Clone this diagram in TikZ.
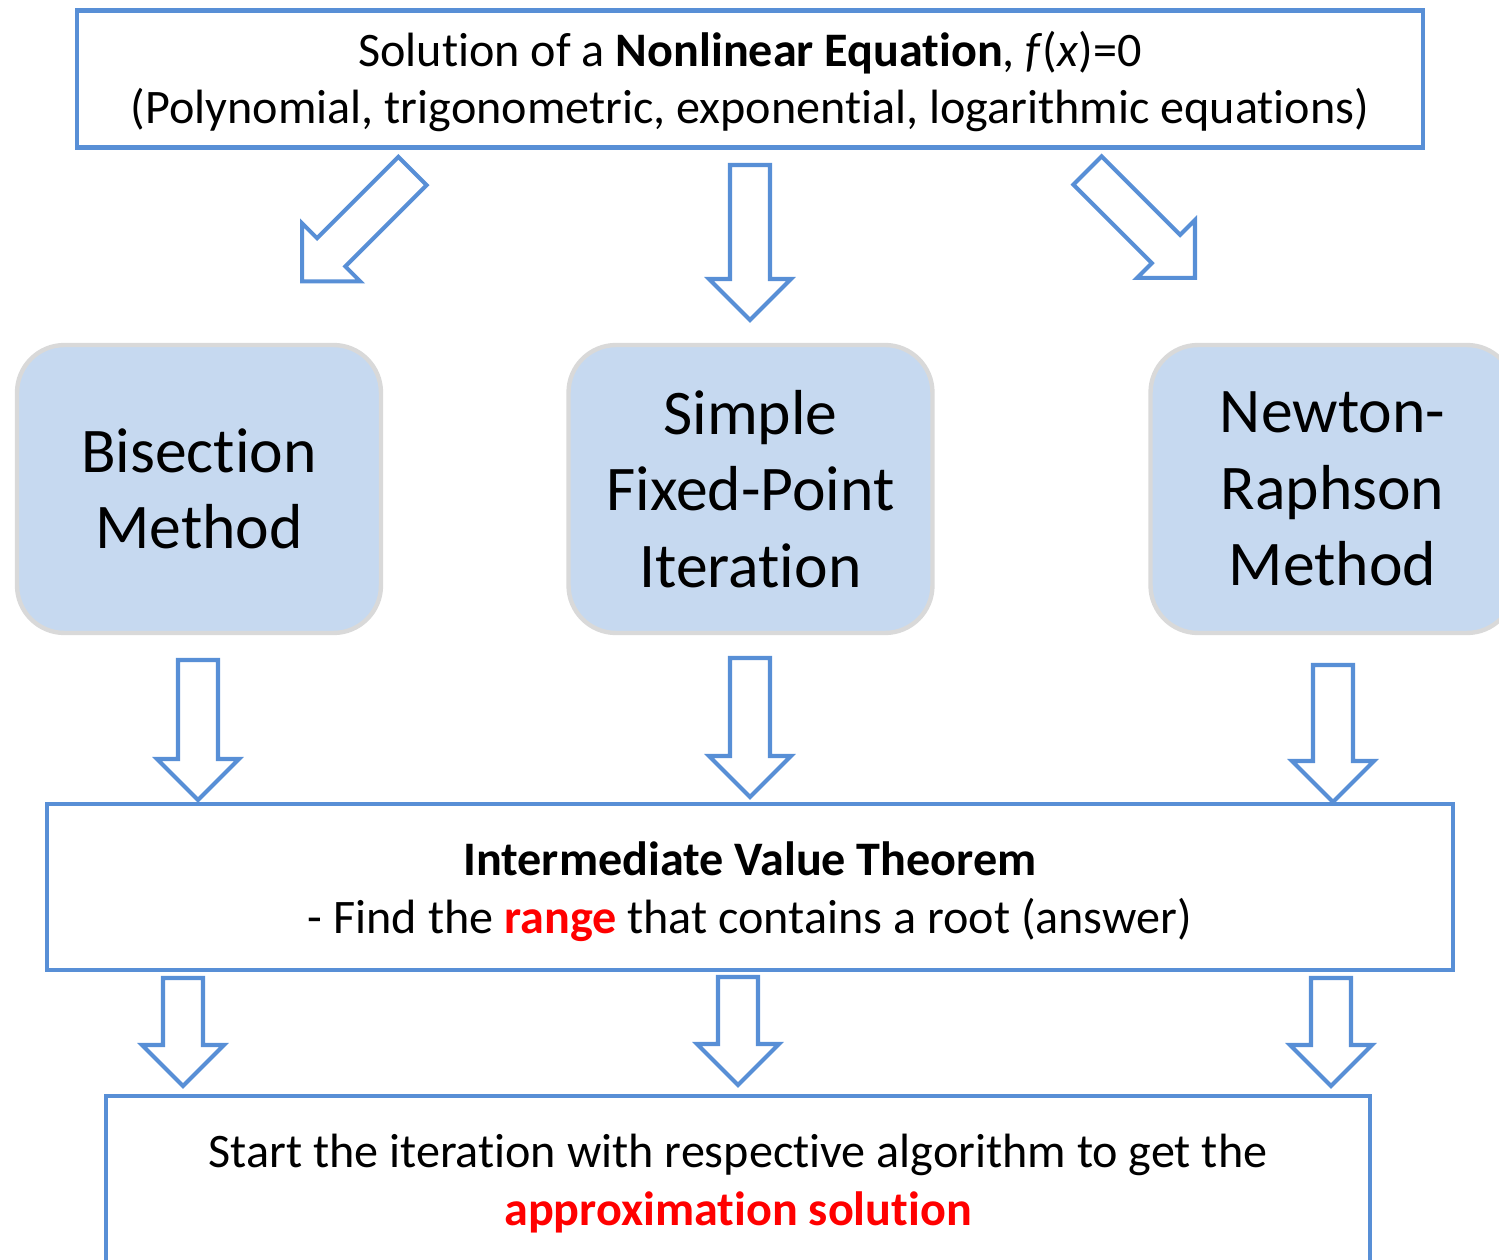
\documentclass[tikz,border=0pt]{standalone}
\usepackage{fontspec}
\setmainfont{Carlito}[Ligatures=NoCommon]
\definecolor{boxblue}{RGB}{88,143,214}
\definecolor{lightblue}{RGB}{198,217,240}
\definecolor{graybd}{RGB}{217,217,217}
\definecolor{hired}{RGB}{255,0,0}
\newcommand\blkarrow[3]{\draw[blk, shift={#1}, rotate=#2] (0,20) -- ({#3-41},20) -- ({#3-41},41) -- (#3,0) -- ({#3-41},-41) -- ({#3-41},-20) -- (0,-20) -- cycle;}
\begin{document}
\begin{tikzpicture}[x=0.02cm,y=-0.02cm,
  bluebox/.style={draw=boxblue, line width=2.3pt, fill=white, inner sep=0pt},
  txt/.style={inner sep=0pt, align=center, font=\fontsize{27.4}{32.6}\selectfont},
  method/.style={draw=graybd, fill=lightblue, line width=2.5pt, rounded corners=27pt, inner sep=0pt, align=center, minimum width=7.28cm, minimum height=5.76cm, font=\fontsize{36.2}{43.6}\selectfont},
  blk/.style={draw=boxblue, line width=2.3pt, fill=white, line join=miter}]
\useasboundingbox (0,0) rectangle (1499,1260);
\clip (0,0) rectangle (1499,1260);

\node[bluebox, minimum width=26.92cm, minimum height=2.74cm] (top) at (750,79) {};
\node[txt] (toptext) at ([yshift=-1.3pt]top.center)
  {Solution of a \textbf{Nonlinear Equation}, \textit{f}(\textit{x})=0\\(Polynomial, trigonometric, exponential, logarithmic equations)};

\node[method] (bis) at (199,489) {Bisection\\Method};
\node[method] (sfp) at (750.5,489) {Simple\\Fixed-Point\\Iteration};
\node[method] (nr) at (1332.5,489) {Newton-\\Raphson\\Method};

\node[bluebox, minimum width=28.12cm, minimum height=3.32cm] (ivt) at (750,887) {};
\node[txt] (ivttext) at ([yshift=-2.6pt]ivt.center)
  {\textbf{Intermediate Value Theorem}\\- Find the \textcolor{hired}{\textbf{range}} that contains a root (answer)};

\node[bluebox, minimum width=25.28cm, minimum height=3.38cm] (iter) at (738,1180.5) {};
\node[txt] (itertext) at ([yshift=-1.7pt]iter.center)
  {Start the iteration with respective algorithm to get the\\\textcolor{hired}{\textbf{approximation solution}}};

\blkarrow{(412.5,171)}{-135}{156}
\blkarrow{(750,165)}{-90}{155}
\blkarrow{(1087.5,170.5)}{-45}{152}

\blkarrow{(198,660)}{-90}{140}
\blkarrow{(750,658)}{-90}{139}
\blkarrow{(1333,665)}{-90}{137}

\blkarrow{(183,978)}{-90}{108}
\blkarrow{(738,977)}{-90}{108}
\blkarrow{(1331,978)}{-90}{108}
\end{tikzpicture}
\end{document}
